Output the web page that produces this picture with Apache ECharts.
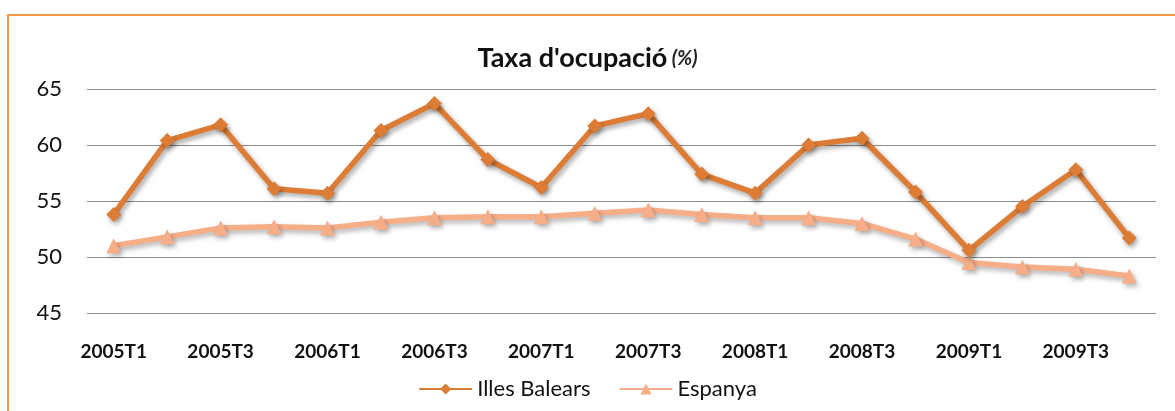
<!DOCTYPE html>
<html>
<head>
<meta charset="utf-8">
<script src="https://cdn.jsdelivr.net/npm/echarts@6/dist/echarts.min.js"></script>
<style>
  html, body { margin: 0; padding: 0; background: #fff; }
  #chart { width: 1175px; height: 411px; }
</style>
</head>
<body>
<div id="chart"></div>
<script>
var quarters = [
    '2005T1', '2005T2', '2005T3', '2005T4',
    '2006T1', '2006T2', '2006T3', '2006T4',
    '2007T1', '2007T2', '2007T3', '2007T4',
    '2008T1', '2008T2', '2008T3', '2008T4',
    '2009T1', '2009T2', '2009T3', '2009T4'
];
var illesBalears = [53.8, 60.4, 61.8, 56.1, 55.7, 61.3, 63.7, 58.7, 56.2, 61.7,
    62.8, 57.4, 55.7, 60.0, 60.6, 55.8, 50.6, 54.5, 57.8, 51.7];
var espanya = [51.0, 51.8, 52.6, 52.7, 52.6, 53.1, 53.5, 53.6, 53.6, 53.9,
    54.2, 53.8, 53.5, 53.5, 53.0, 51.6, 49.5, 49.1, 48.9, 48.3];

var fontName = 'Lato, "Open Sans", sans-serif';

var myChart = echarts.init(document.getElementById('chart'));
myChart.setOption({
    animation: false,
    textStyle: { fontFamily: fontName },
    graphic: [
        {
            type: 'rect',
            shape: { x: 8, y: 15, width: 1250, height: 500 },
            style: { fill: 'none', stroke: '#F79646', lineWidth: 2 },
            silent: true
        }
    ],
    title: {
        text: "{a|Taxa d'ocupació} {b|(%)}",
        left: 'center',
        top: 40,
        textStyle: {
            rich: {
                a: { fontSize: 27, fontWeight: 'bold', color: '#111', fontFamily: fontName },
                b: { fontSize: 20, fontStyle: 'italic', color: '#222', fontFamily: fontName }
            }
        }
    },
    legend: {
        bottom: 6,
        left: 'center',
        itemWidth: 53,
        itemHeight: 14,
        itemGap: 28,
        textStyle: { fontSize: 22, color: '#111', fontFamily: fontName },
        data: ['Illes Balears', 'Espanya']
    },
    grid: {
        left: 87,
        right: 19,
        top: 89,
        bottom: 98,
        containLabel: false
    },
    xAxis: {
        type: 'category',
        data: quarters,
        boundaryGap: true,
        axisLine: { show: false },
        axisTick: { show: false },
        axisLabel: {
            interval: 1,
            margin: 29,
            fontSize: 19,
            fontWeight: 'bold',
            color: '#111'
        }
    },
    yAxis: {
        type: 'value',
        min: 45,
        max: 65,
        interval: 5,
        axisLine: { show: false },
        axisTick: { show: false },
        axisLabel: { margin: 25, fontSize: 22, color: '#111' },
        splitLine: { lineStyle: { color: '#8c8c8c', width: 1 } }
    },
    series: [
        {
            name: 'Illes Balears',
            type: 'line',
            data: illesBalears,
            symbol: 'diamond',
            symbolSize: 15,
            color: '#DD7C34',
            lineStyle: {
                width: 5.5,
                color: '#DD7C34',
                shadowColor: 'rgba(0,0,0,0.35)',
                shadowBlur: 5,
                shadowOffsetX: 2,
                shadowOffsetY: 3
            },
            itemStyle: {
                color: '#DD7C34',
                shadowColor: 'rgba(0,0,0,0.35)',
                shadowBlur: 5,
                shadowOffsetX: 2,
                shadowOffsetY: 3
            },
            z: 3
        },
        {
            name: 'Espanya',
            type: 'line',
            data: espanya,
            symbol: 'triangle',
            symbolSize: 15,
            color: '#F6AE88',
            lineStyle: {
                width: 5.5,
                color: '#F6AE88',
                shadowColor: 'rgba(0,0,0,0.3)',
                shadowBlur: 5,
                shadowOffsetX: 2,
                shadowOffsetY: 3
            },
            itemStyle: {
                color: '#F6AE88',
                shadowColor: 'rgba(0,0,0,0.3)',
                shadowBlur: 5,
                shadowOffsetX: 2,
                shadowOffsetY: 3
            },
            z: 2
        }
    ]
});
</script>
</body>
</html>
